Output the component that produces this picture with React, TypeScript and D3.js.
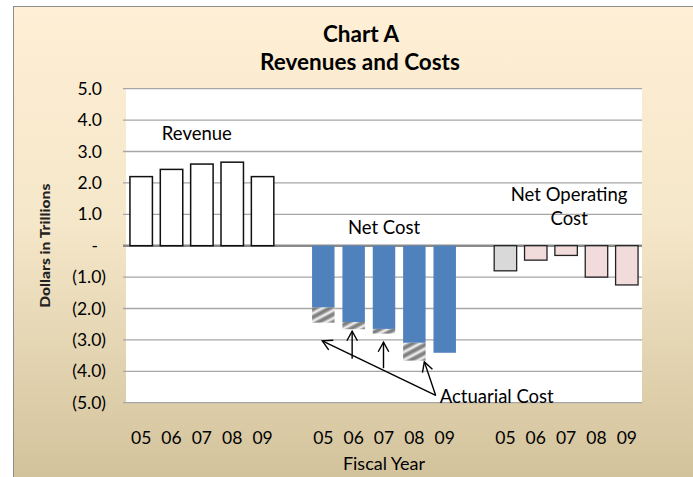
import React from "react";
import * as d3 from "d3";

const categories = [
  "R05", "R06", "R07", "R08", "R09", "gapA",
  "C05", "C06", "C07", "C08", "C09", "gapB",
  "O05", "O06", "O07", "O08", "O09",
];
const yearLabels = ["05", "06", "07", "08", "09"];

const revenueCats = ["R05", "R06", "R07", "R08", "R09"];
const revenue = [2.2, 2.43, 2.6, 2.66, 2.2];

const netCostCats = ["C05", "C06", "C07", "C08", "C09"];
const netCost = [-1.96, -2.43, -2.65, -3.09, -3.41];
const netCostWithActuarial = [-2.45, -2.66, -2.8, -3.66, -3.41];

const netOpCats = ["O05", "O06", "O07", "O08", "O09"];
const netOperating = [-0.8, -0.46, -0.31, -1.0, -1.25];

const yTicks = [5, 4, 3, 2, 1, 0, -1, -2, -3, -4, -5];

const W = 693;
const H = 477;
const FONT = "Lato, 'Open Sans', sans-serif";

function fmt(v: number) {
  if (v === 0) return "-";
  if (v < 0) return `(${Math.abs(v).toFixed(1)})`;
  return v.toFixed(1);
}

function Arrow({ x1, y1, x2, y2 }: { x1: number; y1: number; x2: number; y2: number }) {
  const ang = Math.atan2(y1 - y2, x1 - x2);
  const len = 11;
  const spread = 0.5;
  const a1 = ang + spread;
  const a2 = ang - spread;
  const d = `M${x2 + len * Math.cos(a1)},${y2 + len * Math.sin(a1)} L${x2},${y2} L${x2 + len * Math.cos(a2)},${y2 + len * Math.sin(a2)}`;
  return (
    <g stroke="#000" strokeWidth={1.4} fill="none">
      <line x1={x1} y1={y1} x2={x2} y2={y2} />
      <path d={d} />
    </g>
  );
}

export default function App() {
  const left = 126;
  const right = 642;
  const top = 88.7;
  const bottom = 402.7;

  const x = d3.scaleBand<string>().domain(categories).range([left, right]).paddingInner(0.26).paddingOuter(0.13);
  const y = d3.scaleLinear().domain([-5, 5]).range([bottom, top]);
  const bw = x.bandwidth();
  const cx = (c: string) => (x(c) as number) + bw / 2;

  const groups = [revenueCats, netCostCats, netOpCats];
  const opFills = ["#D9D9D9", "#F2DCDB", "#F2DCDB", "#F2DCDB", "#F2DCDB"];

  // arrow origin near the "Actuarial Cost" label
  const ox = cx("C09") - 9;
  const oy = y(-4.77);

  return (
    <div style={{ position: "absolute", left: 0, top: 0, width: W, height: H }}>
      <svg width={W} height={H} style={{ display: "block", fontFamily: FONT }}>
        <defs>
          <linearGradient id="bg" x1="0" y1="0" x2="0" y2="1">
            <stop offset="0" stopColor="#FEEFD6" />
            <stop offset="0.45" stopColor="#F5E7C9" />
            <stop offset="1" stopColor="#D2C29B" />
          </linearGradient>
          <linearGradient id="stripe" x1="0" y1="0" x2="0" y2="1">
            <stop offset="0" stopColor="#6e6e6e" />
            <stop offset="0.25" stopColor="#a8a8a8" />
            <stop offset="0.5" stopColor="#f8f8f8" />
            <stop offset="0.75" stopColor="#a0a0a0" />
            <stop offset="1" stopColor="#6e6e6e" />
          </linearGradient>
          <pattern id="hatch" width="40" height="7" patternUnits="userSpaceOnUse" patternTransform="rotate(-28)">
            <rect width="40" height="7" fill="url(#stripe)" />
          </pattern>
        </defs>

        <rect x={13.5} y={6.5} width={W} height={H} fill="url(#bg)" stroke="#8C8C8C" strokeWidth={1} />

        {/* Titles */}
        <text x={361} y={42} textAnchor="middle" fontSize={22.5} fontWeight="bold">Chart A</text>
        <text x={360} y={70} textAnchor="middle" fontSize={22.5} fontWeight="bold">Revenues and Costs</text>

        {/* Plot area */}
        <rect x={left} y={top} width={right - left} height={bottom - top} fill="#fff" />

        {yTicks.map((t) => (
          <line
            key={"g" + t}
            x1={left - 3}
            x2={right}
            y1={y(t)}
            y2={y(t)}
            stroke={t === 0 ? "#8a8a8a" : "#a6a6a6"}
            strokeWidth={t === 0 ? 2.4 : 1.3}
          />
        ))}

        {/* Y tick labels */}
        {yTicks.map((t) => (
          <text
            key={"yl" + t}
            x={t < 0 ? 106 : t === 0 ? 98 : 102}
            y={y(t) + 6}
            textAnchor="end"
            fontSize={17.5}
          >
            {fmt(t)}
          </text>
        ))}

        {/* Y axis title */}
        <text
          transform={`translate(50,${(top + bottom) / 2}) rotate(-90)`}
          textAnchor="middle"
          fontSize={13.5}
          fontWeight="900"
          fill="#222"
          textLength={124}
          lengthAdjust="spacingAndGlyphs"
        >
          Dollars in Trillions
        </text>

        {/* Revenue bars */}
        {revenueCats.map((c, i) => (
          <rect
            key={c}
            x={x(c)}
            y={y(revenue[i])}
            width={bw}
            height={y(0) - y(revenue[i])}
            fill="#fff"
            stroke="#111"
            strokeWidth={1.5}
          />
        ))}

        {/* Net cost: actuarial portion then blue */}
        {netCostCats.map((c, i) => (
          <rect
            key={c + "a"}
            x={x(c)}
            y={y(netCost[i])}
            width={bw}
            height={y(netCostWithActuarial[i]) - y(netCost[i])}
            fill="url(#hatch)"
          />
        ))}
        {netCostCats.map((c, i) => (
          <rect
            key={c}
            x={x(c)}
            y={y(0)}
            width={bw}
            height={y(netCost[i]) - y(0)}
            fill="#4F81BD"
          />
        ))}

        {/* Net operating cost */}
        {netOpCats.map((c, i) => (
          <rect
            key={c}
            x={x(c)}
            y={y(0)}
            width={bw}
            height={y(netOperating[i]) - y(0)}
            fill={opFills[i]}
            stroke="#222"
            strokeWidth={1.3}
          />
        ))}

        {/* Annotations */}
        <text x={cx("R07") - 5} y={140} textAnchor="middle" fontSize={18.5}>Revenue</text>
        <text x={cx("C07")} y={234} textAnchor="middle" fontSize={18.5}>Net Cost</text>
        <text x={cx("O07") + 3} y={201} textAnchor="middle" fontSize={18.5}>Net Operating</text>
        <text x={cx("O07") + 3} y={225} textAnchor="middle" fontSize={18.5}>Cost</text>
        <text x={ox + 4} y={403} textAnchor="start" fontSize={18.5}>Actuarial Cost</text>

        <Arrow x1={ox} y1={oy} x2={cx("C05") - 1} y2={y(-3.03)} />
        <Arrow x1={cx("C06") - 1.5} y1={y(-3.6)} x2={cx("C06") - 1.5} y2={y(-2.72)} />
        <Arrow x1={cx("C07") - 0.5} y1={y(-3.9)} x2={cx("C07") - 0.5} y2={y(-3.07)} />
        <Arrow x1={ox} y1={oy} x2={cx("C08") + 10} y2={y(-3.7)} />

        {/* X labels */}
        {groups.map((g) =>
          g.map((c, i) => (
            <text key={"xl" + c} x={cx(c)} y={444} textAnchor="middle" fontSize={17.5}>
              {yearLabels[i]}
            </text>
          ))
        )}
        <text x={cx("C07")} y={470} textAnchor="middle" fontSize={18}>Fiscal Year</text>
      </svg>
    </div>
  );
}
